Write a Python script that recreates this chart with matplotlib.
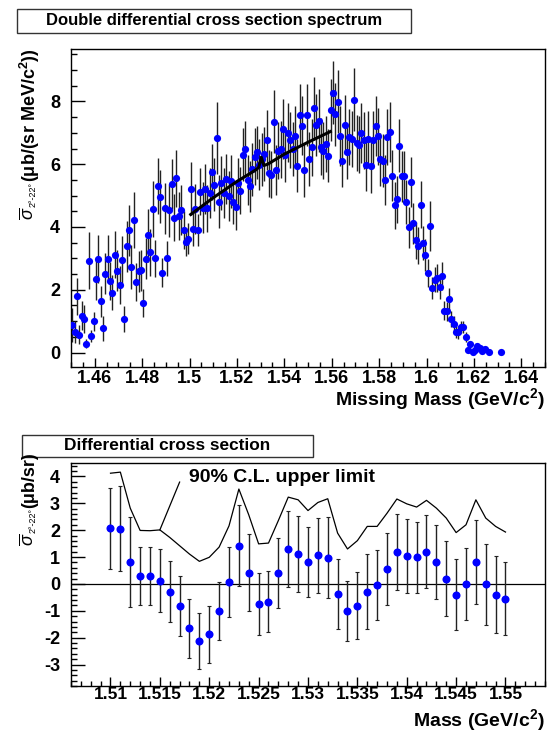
import numpy as np
import matplotlib
matplotlib.use("Agg")
import matplotlib.pyplot as plt
from matplotlib.patches import Rectangle
from matplotlib.ticker import MultipleLocator

plt.rcParams['font.family'] = ['Liberation Sans', 'DejaVu Sans']
plt.rcParams['mathtext.fontset'] = 'custom'
plt.rcParams['mathtext.rm'] = 'Liberation Sans'
plt.rcParams['mathtext.it'] = 'Liberation Sans:italic'
plt.rcParams['mathtext.bf'] = 'Liberation Sans:bold'

# ---------------- top panel data (bin centres start 1.4505, width 0.001) -------------
top_first_bin = 1.4505
top_bin_width = 0.001
top_vals = [
    0.88, 0.64, 1.79, 0.57, 1.18, 1.06, 0.28, 2.93, 0.53, 0.99,
    2.34, 2.98, 1.63, 0.78, 2.51, 2.99, 2.28, 1.91, 3.11, 2.61,
    2.16, 2.96, 1.07, 3.38, 3.89, 2.74, 4.22, 2.24, 2.59, 2.62,
    1.59, 2.99, 3.73, 3.19, 4.58, 3.00, 5.30, 4.97, 2.55, 4.59,
    3.00, 4.53, 5.38, 4.29, 5.55, 4.35, 4.54, 3.91, 3.53, 3.63,
    5.22, 3.93, 4.57, 3.90, 5.13, 4.62, 5.22, 4.59, 5.08, 5.75,
    5.35, 6.83, 4.81, 5.40, 5.08, 5.52, 4.98, 5.45, 4.80, 4.65,
    5.40, 5.15, 6.30, 6.49, 5.50, 5.29, 5.84, 6.24, 6.38, 5.99,
    6.15, 6.33, 6.78, 5.71, 5.66, 7.36, 5.82, 6.43, 6.47, 7.13,
    6.29, 7.01, 6.77, 6.49, 6.90, 5.95, 7.57, 7.23, 5.80, 7.57,
    6.17, 6.54, 7.78, 7.25, 7.39, 6.56, 6.43, 6.65, 6.27, 7.73,
    8.28, 7.59, 7.99, 6.89, 6.11, 7.26, 6.39, 6.86, 6.81, 8.06,
    6.67, 6.62, 6.99, 6.76, 5.99, 6.81, 5.93, 6.78, 7.21, 6.89,
    6.16, 6.11, 5.50, 6.86, 7.02, 5.64, 4.69, 4.89, 6.59, 5.61,
    5.61, 4.80, 3.99, 5.44, 4.12, 3.57, 3.41, 4.71, 3.49, 3.11,
    2.53, 4.02, 2.07, 2.32, 2.37, 2.10, 2.44, 1.33, 1.31, 1.70,
    1.08, 0.91, 0.66, 0.64, 0.81, 0.81, 0.49, 0.09, 0.27, 0.02,
    0.09, 0.21, 0.14, 0.06, 0.12, None, 0.03, None, None, None,
    None, 0.01,
]
top_errs = [
    0.55, 0.35, 0.60, 0.30, 0.45, 0.45, 0.15, 0.90, 0.20, 0.30,
    0.65, 0.75, 0.50, 0.40, 0.65, 0.75, 0.60, 0.55, 0.75, 0.65,
    0.60, 0.75, 0.40, 0.80, 0.80, 0.70, 0.90, 0.60, 0.65, 0.65,
    0.45, 0.65, 0.85, 0.75, 0.90, 0.60, 0.90, 0.85, 0.45, 0.80,
    0.55, 0.85, 0.80, 0.75, 0.90, 0.75, 0.80, 0.60, 0.45, 0.50,
    0.85, 0.55, 0.80, 0.50, 0.75, 0.80, 0.80, 0.75, 0.80, 0.90,
    0.85, 1.15, 0.85, 0.85, 0.80, 0.80, 0.80, 0.85, 0.70, 0.75,
    0.80, 0.75, 0.85, 0.90, 0.80, 0.80, 0.85, 0.90, 0.85, 0.80,
    0.85, 0.85, 0.95, 0.75, 0.75, 1.00, 0.80, 0.90, 0.90, 0.95,
    0.85, 0.95, 0.90, 0.85, 0.95, 0.85, 1.00, 0.95, 0.85, 1.00,
    0.85, 0.90, 1.00, 1.00, 1.00, 0.90, 0.90, 0.90, 0.85, 1.00,
    1.00, 1.00, 1.00, 0.95, 0.85, 0.95, 0.85, 0.90, 0.90, 1.00,
    0.90, 0.90, 0.95, 0.90, 0.85, 0.90, 0.85, 0.90, 0.95, 0.90,
    0.85, 0.85, 0.80, 0.90, 0.95, 0.80, 0.75, 0.75, 0.85, 0.80,
    0.80, 0.70, 0.65, 0.80, 0.65, 0.60, 0.60, 0.75, 0.55, 0.50,
    0.45, 0.80, 0.35, 0.40, 0.45, 0.40, 0.45, 0.30, 0.30, 0.35,
    0.25, 0.25, 0.20, 0.20, 0.20, 0.20, 0.15, 0.05, 0.10, 0.03,
    0.05, 0.08, 0.05, 0.04, 0.05, None, 0.02, None, None, None,
    None, 0.01,
]
# fitted curve
fit_x = [1.500, 1.510, 1.520, 1.525, 1.528, 1.5292, 1.5303, 1.5314, 1.533, 1.540, 1.550, 1.560]
fit_y = [4.37, 4.93, 5.45, 5.68, 5.82, 5.90, 6.22, 5.96, 6.00, 6.32, 6.70, 7.06]

# ---------------- bottom panel data -------------
bot_x = [1.510, 1.511, 1.512, 1.513, 1.514, 1.515, 1.516, 1.517, 1.518, 1.519,
         1.520, 1.521, 1.522, 1.523, 1.524, 1.525, 1.526, 1.527, 1.528, 1.529,
         1.530, 1.531, 1.532, 1.533, 1.534, 1.535, 1.536, 1.537, 1.538, 1.539,
         1.540, 1.541, 1.542, 1.543, 1.544, 1.545, 1.546, 1.547, 1.548, 1.549,
         1.550]
bot_y = [2.07, 2.05, 0.81, 0.30, 0.30, 0.12, -0.29, -0.81, -1.65, -2.11,
         -1.88, -1.01, 0.06, 1.42, 0.42, -0.76, -0.66, 0.40, 1.29, 1.11,
         0.83, 1.06, 0.98, -0.39, -1.01, -0.81, -0.29, -0.04, 0.56, 1.19,
         1.03, 0.99, 1.19, 0.83, 0.20, -0.40, -0.01, 0.83, -0.02, -0.40,
         -0.55]
bot_err = [1.51, 1.58, 1.68, 1.09, 1.08, 1.17, 1.13, 1.12, 1.09, 1.04,
           1.05, 1.07, 1.30, 1.50, 1.42, 1.15, 1.13, 1.30, 1.41, 1.41,
           1.30, 1.38, 1.50, 1.30, 1.10, 1.24, 1.40, 1.32, 1.35, 1.40,
           1.38, 1.32, 1.36, 1.38, 1.41, 1.31, 1.35, 1.56, 1.50, 1.43,
           1.35]
limit_y = [4.12, 4.16, 2.82, 1.99, 1.98, 2.01, 1.73, 1.42, 1.11, 0.84,
           0.99, 1.37, 2.16, 3.53, 2.57, 1.49, 1.52, 2.36, 3.23, 3.13,
           2.73, 3.03, 3.17, 1.89, 1.30, 1.61, 2.14, 2.14, 2.63, 3.16,
           2.98, 2.86, 3.11, 2.82, 2.45, 1.91, 2.20, 3.13, 2.45, 2.14,
           1.93]
pointer_x = [1.515, 1.517]
pointer_y = [2.01, 3.79]

W, H = 550, 732
fig = plt.figure(figsize=(W / 100, H / 100), dpi=100)

def ax_rect(l, t, r, b):
    return [l / W, 1 - b / H, (r - l) / W, (b - t) / H]

blue = '#0000ff'

# ---------------- top axes -------------
ax1 = fig.add_axes(ax_rect(71, 49, 545, 367))
tx = np.array([top_first_bin + i * top_bin_width for i in range(len(top_vals))])
tv = np.array([np.nan if v is None else v for v in top_vals], dtype=float)
te = np.array([np.nan if v is None else v for v in top_errs], dtype=float)
ax1.errorbar(tx, tv, yerr=te, fmt='none', ecolor='#222222', elinewidth=1.0, capsize=0, zorder=2)
ax1.plot(tx, tv, 'o', color=blue, markersize=5.2, markeredgewidth=0, zorder=3)
ax1.plot(fit_x, fit_y, color='black', lw=2.2, zorder=4, solid_capstyle='butt')
ax1.set_xlim(1.45, 1.65)
ax1.set_ylim(-0.46, 9.67)
ax1.xaxis.set_minor_locator(MultipleLocator(0.005))
ax1.yaxis.set_minor_locator(MultipleLocator(0.5))
ax1.set_xticks(np.arange(1.46, 1.641, 0.02))
ax1.set_xticklabels(['1.46', '1.48', '1.5', '1.52', '1.54', '1.56', '1.58', '1.6', '1.62', '1.64'])
ax1.set_yticks([0, 2, 4, 6, 8])
ax1.set_yticklabels(['0', '2', '4', '6', '8'])

# ---------------- bottom axes -------------
ax2 = fig.add_axes(ax_rect(71, 463, 545, 686))
ax2.axhline(0, color='black', lw=0.9, zorder=1)
ax2.plot(bot_x, limit_y, color='black', lw=0.9, zorder=2)
ax2.plot(pointer_x, pointer_y, color='black', lw=0.9, zorder=2)
ax2.errorbar(bot_x, bot_y, yerr=bot_err, fmt='none', ecolor='#222222', elinewidth=1.0,
             capsize=1.5, capthick=0.8, zorder=3)
ax2.plot(bot_x, bot_y, 'o', color=blue, markersize=5.8, markeredgewidth=0, zorder=4)
ax2.set_xlim(1.506, 1.554)
ax2.set_ylim(-3.8, 4.5)
ax2.set_xticks(np.arange(1.51, 1.5501, 0.005))
ax2.set_xticklabels(['1.51', '1.515', '1.52', '1.525', '1.53', '1.535', '1.54', '1.545', '1.55'])
ax2.xaxis.set_minor_locator(MultipleLocator(0.001))
ax2.set_yticks([-3, -2, -1, 0, 1, 2, 3, 4])
ax2.set_yticklabels(['-3', '-2', '-1', '0', '1', '2', '3', '4'])
ax2.yaxis.set_minor_locator(MultipleLocator(0.2))
ax2.text(1.5180, 3.80, '90% C.L. upper limit', fontsize=14, fontweight='bold',
         va='baseline', ha='left')

for ax, xpad, xls in ((ax1, 2.0, 13), (ax2, 1.0, 12.5)):
    for s in ax.spines.values():
        s.set_linewidth(1.0)
    ax.tick_params(axis='both', which='both', direction='in', top=False, right=False)
    ax.tick_params(axis='y', which='major', length=10, width=1.0, pad=8, labelsize=13)
    ax.tick_params(axis='y', which='minor', length=4.5, width=1.0)
    ax.tick_params(axis='x', which='major', length=6.5, width=1.0, pad=xpad, labelsize=xls)
    ax.tick_params(axis='x', which='minor', length=3.5, width=1.0)
    for lab in ax.get_xticklabels() + ax.get_yticklabels():
        lab.set_fontweight('bold')

# ---------------- axis titles -------------
fig.text(545 / W, 1 - 399 / H, 'Missing Mass (GeV/c$^{\\mathbf{2}}$)', ha='right', va='center',
         fontsize=14, fontweight='bold')
fig.text(545 / W, 1 - 720 / H, 'Mass (GeV/c$^{\\mathbf{2}}$)', ha='right', va='center',
         fontsize=14, fontweight='bold')

fig.canvas.draw()
renderer = fig.canvas.get_renderer()

def ylabel(xc, ytop_px, unit_text):
    # pieces stacked from top (end of text) to bottom (start of text), rotated 90
    p1 = fig.text(xc / W, 1 - ytop_px / H, unit_text, rotation=90, ha='center', va='top',
                  fontsize=13, fontweight='bold')
    bb = p1.get_window_extent(renderer)
    y_next = bb.y0 / fig.bbox.height
    p2 = fig.text((xc + 3) / W, y_next, '2°-22°', rotation=90, ha='center', va='top',
                  fontsize=6.5)
    bb2 = p2.get_window_extent(renderer)
    y_next2 = bb2.y0 / fig.bbox.height
    fig.text((xc - 2) / W, y_next2, r'$\overline{\sigma}$', rotation=90, ha='center', va='top',
             fontsize=13)

ylabel(30, 48, '(μb/(sr MeV/c$^{\\mathbf{2}}$))')
ylabel(30, 452, '(μb/sr)')

# ---------------- title boxes -------------
def title_box(l, t, r, b, text, fs):
    rect = Rectangle((l / W, 1 - b / H), (r - l) / W, (b - t) / H, transform=fig.transFigure,
                     facecolor='white', edgecolor='#333333', lw=1.0)
    fig.add_artist(rect)
    fig.text((l + r) / 2 / W, 1 - (t + b) / 2 / H, text, ha='center', va='center',
             fontsize=fs, fontweight='bold')

title_box(17, 9, 411, 33, 'Double differential cross section spectrum', 12)
title_box(22, 435, 313, 457, 'Differential cross section', 12.4)

fig.savefig('out.png', dpi=100)
